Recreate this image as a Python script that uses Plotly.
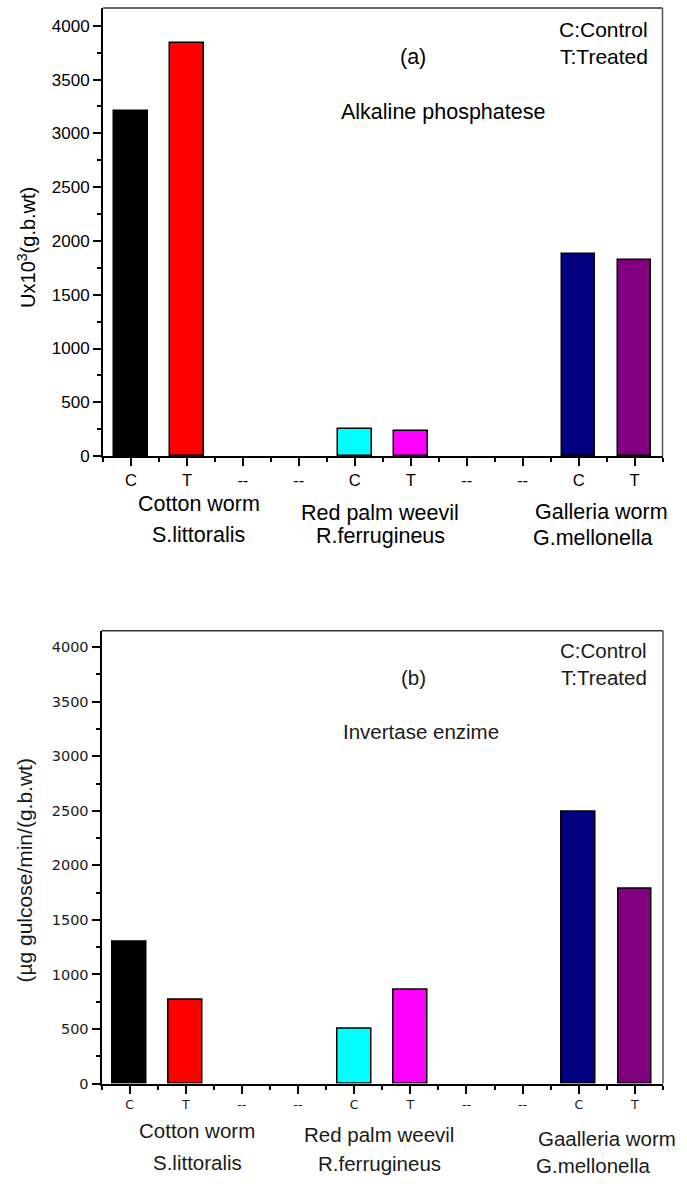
import plotly.graph_objects as go

# ---------------- data ----------------
tick_labels = ["C", "T", "--", "--", "C", "T", "--", "--", "C", "T"]
alkaline_values = [3210, 3845, None, None, 256, 230, None, None, 1876, 1820]
invertase_values = [1300, 773, None, None, 505, 857, None, None, 2490, 1790]
bar_colors = ["#000000", "#FF0000", "rgba(0,0,0,0)", "rgba(0,0,0,0)", "#00FFFF",
              "#FF00FF", "rgba(0,0,0,0)", "rgba(0,0,0,0)", "#000080", "#800080"]
y_ticks = [0, 500, 1000, 1500, 2000, 2500, 3000, 3500, 4000]

top_groups = [("Cotton worm", "S.littoralis"),
              ("Red palm weevil", "R.ferrugineus"),
              ("Galleria worm", "G.mellonella")]
bottom_groups = [("Cotton worm", "S.littoralis"),
                 ("Red palm weevil", "R.ferrugineus"),
                 ("Gaalleria worm", "G.mellonella")]

positions = list(range(1, len(tick_labels) + 1))
minor_positions = [p - 0.5 for p in positions] + [positions[-1] + 0.5]

W, H = 687, 1188
FONT = "Liberation Sans, Arial, sans-serif"
FONT2 = "DejaVu Sans, sans-serif"


def px(x, y):
    return x / W, 1 - y / H


fig = go.Figure()
fig.add_trace(go.Bar(x=positions, y=alkaline_values, width=0.6,
                     marker=dict(color=bar_colors, line=dict(color="#000000", width=1.5)),
                     xaxis="x", yaxis="y", showlegend=False))
fig.add_trace(go.Bar(x=positions, y=invertase_values, width=0.6,
                     marker=dict(color=bar_colors, line=dict(color="#000000", width=1.5)),
                     xaxis="x2", yaxis="y2", showlegend=False))

# domains
tx0, ty1 = px(103, 8)
tx1, ty0 = px(662.5, 460)
bx0, by1 = px(101.5, 636)
bx1, by0 = px(663, 1092.7)


def xaxis(domain, anchor, font):
    return dict(domain=domain, anchor=anchor, range=[0.5, 10.5],
                tickmode="array", tickvals=positions, ticktext=tick_labels,
                ticks="outside", ticklen=8, tickwidth=1.5, tickcolor="#000",
                showline=True, linecolor="#000", linewidth=2,
                showgrid=False, zeroline=False, tickfont=font,
                minor=dict(tickmode="array", tickvals=minor_positions, ticks="outside",
                           ticklen=4, tickwidth=1.5, tickcolor="#000", showgrid=False))


def yaxis(domain, anchor, rng, font):
    return dict(domain=domain, anchor=anchor, range=rng,
                tickmode="array", tickvals=y_ticks,
                ticks="outside", ticklen=8, tickwidth=1.5, tickcolor="#000",
                showline=True, linecolor="#000", linewidth=2,
                showgrid=False, zeroline=False, tickfont=font,
                minor=dict(dtick=250, ticks="outside", ticklen=4, tickwidth=1.5,
                           tickcolor="#000", showgrid=False))


C2 = "#1a1a1a"
fig.update_layout(
    width=W, height=H, margin=dict(l=0, r=0, t=0, b=0),
    paper_bgcolor="white", plot_bgcolor="white",
    bargap=0,
    xaxis=xaxis([tx0, tx1], "y", dict(family=FONT, size=16.5, color="#000")),
    yaxis=yaxis([ty0, ty1], "x", [0, 4166], dict(family=FONT, size=17, color="#000")),
    xaxis2=xaxis([bx0, bx1], "y2", dict(family=FONT2, size=12.5, color=C2)),
    yaxis2=yaxis([by0, by1], "x2", [0, 4152], dict(family=FONT2, size=14.5, color=C2)),
)

# top / right frame lines
shapes = []
for (x0, x1, y0, y1) in [(tx0, tx1, ty0, ty1), (bx0, bx1, by0, by1)]:
    shapes.append(dict(type="line", xref="paper", yref="paper", x0=x0, x1=x1, y0=y1, y1=y1,
                       line=dict(color="#333", width=1.5)))
    shapes.append(dict(type="line", xref="paper", yref="paper", x0=x1, x1=x1, y0=y0, y1=y1,
                       line=dict(color="#555", width=1.5)))
fig.update_layout(shapes=shapes)

annotations = []


def text(x, y, s, size, color="#000", xanchor="center", angle=0):
    ax, ay = px(x, y)
    annotations.append(dict(x=ax, y=ay, xref="paper", yref="paper", text=s, showarrow=False,
                            xanchor=xanchor, yanchor="middle", textangle=angle,
                            font=dict(family=FONT, size=size, color=color)))


# top chart texts
text(413, 57, "(a)", 21.5)
text(443, 113, "Alkaline phosphatese", 21.5)
text(650, 30, "C:Control", 21, xanchor="right")
text(650, 57, "T:Treated", 21, xanchor="right")
text(27, 250, "Ux10<sup>3</sup>(g.b.wt)", 20, angle=-90)
top_label_pos = [((199, 508), (198, 540)), ((380, 517), (380, 541)), ((601, 516), (593, 543))]
for (a, b), ((x1, y1), (x2, y2)) in zip(top_groups, top_label_pos):
    text(x1, y1, a, 21.5)
    text(x2, y2, b, 21.5)

# bottom chart texts
text(413, 683, "(b)", 20.5, C2)
text(421, 738, "Invertase enzime", 20.5, C2)
text(649, 656, "C:Control", 20.5, C2, xanchor="right")
text(649, 683, "T:Treated", 20.5, C2, xanchor="right")
text(25, 878, "(µg gulcose/min/(g.b.wt)", 21, C2, angle=-90)
bot_label_pos = [((197, 1140), (197, 1172)), ((379, 1144), (379, 1173)), ((607, 1148), (593, 1175))]
for (a, b), ((x1, y1), (x2, y2)) in zip(bottom_groups, bot_label_pos):
    text(x1, y1, a, 20.5, C2)
    text(x2, y2, b, 20.5, C2)

fig.update_layout(annotations=annotations)
fig.write_html("out.html")
